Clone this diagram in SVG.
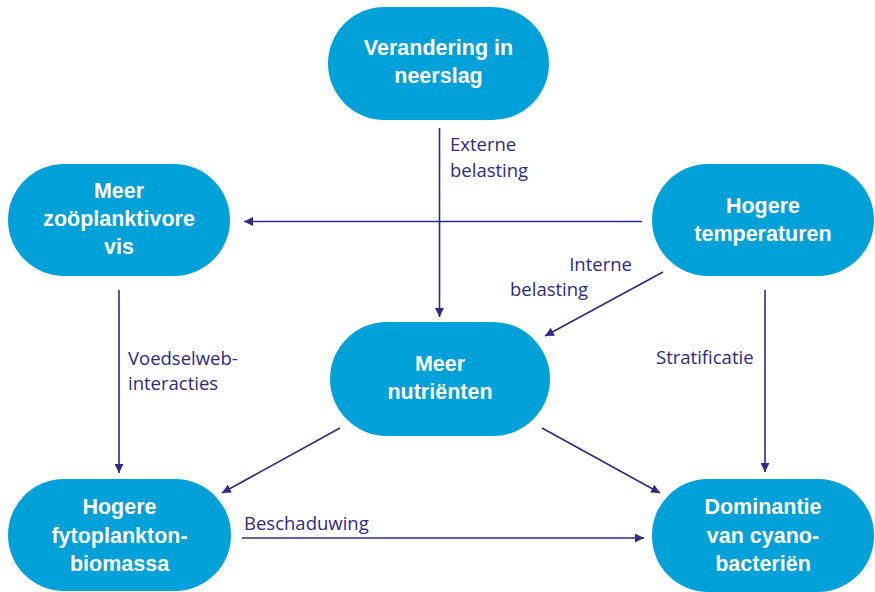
<svg xmlns="http://www.w3.org/2000/svg" width="875" height="592" viewBox="0 0 875 592">
<style>
.node{fill:#00a0d9}
.nt{fill:#fff;font-family:"Liberation Sans",Arial,sans-serif;font-weight:bold;font-size:21.5px;text-anchor:middle}
.lbl{fill:#2e2a86;font-family:"Open Sans","Liberation Sans",sans-serif;font-size:18.5px}
.c{stroke:#2e2a86;stroke-width:1.6;fill:none;marker-end:url(#ah)}
</style>
<defs>
<marker id="ah" viewBox="0 0 10 10" refX="10" refY="5" markerWidth="9" markerHeight="9" markerUnits="userSpaceOnUse" orient="auto">
<path d="M0,0 L10,5 L0,10 Z" fill="#2e2a86"/>
</marker>
</defs>
<rect width="875" height="592" fill="#fff"/>
<g id="n-neerslag"><rect class="node" x="328" y="7" width="221" height="113" rx="56.5"/>
<text class="nt" x="438.5" y="55">Verandering in</text><text class="nt" x="438.5" y="83">neerslag</text></g>
<g id="n-vis"><rect class="node" x="8" y="164" width="222" height="112" rx="56"/>
<text class="nt" x="119" y="198">Meer</text><text class="nt" x="119" y="226">zoöplanktivore</text><text class="nt" x="119" y="254">vis</text></g>
<g id="n-temp"><rect class="node" x="652" y="164" width="222" height="112" rx="56"/>
<text class="nt" x="763" y="213">Hogere</text><text class="nt" x="763" y="241">temperaturen</text></g>
<g id="n-nutrienten"><rect class="node" x="330" y="322" width="220" height="114" rx="57"/>
<text class="nt" x="440" y="371">Meer</text><text class="nt" x="440" y="399">nutriënten</text></g>
<g id="n-fyto"><rect class="node" x="8" y="479" width="223" height="112" rx="56"/>
<text class="nt" x="119.5" y="514">Hogere</text><text class="nt" x="119.5" y="543">fytoplankton-</text><text class="nt" x="119.5" y="571">biomassa</text></g>
<g id="n-cyano"><rect class="node" x="652" y="479" width="222" height="113" rx="56"/>
<text class="nt" x="763" y="514">Dominantie</text><text class="nt" x="763" y="543">van cyano-</text><text class="nt" x="763" y="571">bacteriën</text></g>
<g id="connectors">
<line class="c" x1="439.5" y1="128" x2="439.5" y2="317"/>
<line class="c" x1="642" y1="221.5" x2="244" y2="221.5"/>
<line class="c" x1="663" y1="272" x2="545" y2="336"/>
<line class="c" x1="765" y1="290" x2="765" y2="472"/>
<line class="c" x1="119" y1="290" x2="119" y2="473"/>
<line class="c" x1="340" y1="428" x2="222" y2="493"/>
<line class="c" x1="542" y1="428" x2="660" y2="493"/>
<line class="c" x1="242" y1="538" x2="644" y2="538"/>
</g>
<g id="labels">
<text class="lbl" x="450" y="151">Externe</text><text class="lbl" x="450" y="177">belasting</text>
<text class="lbl" x="632" y="271" text-anchor="end">Interne</text><text class="lbl" x="510" y="296">belasting</text>
<text class="lbl" x="128" y="365">Voedselweb-</text><text class="lbl" x="128" y="390">interacties</text>
<text class="lbl" x="656" y="364">Stratificatie</text>
<text class="lbl" x="244" y="530">Beschaduwing</text>
</g>
</svg>
